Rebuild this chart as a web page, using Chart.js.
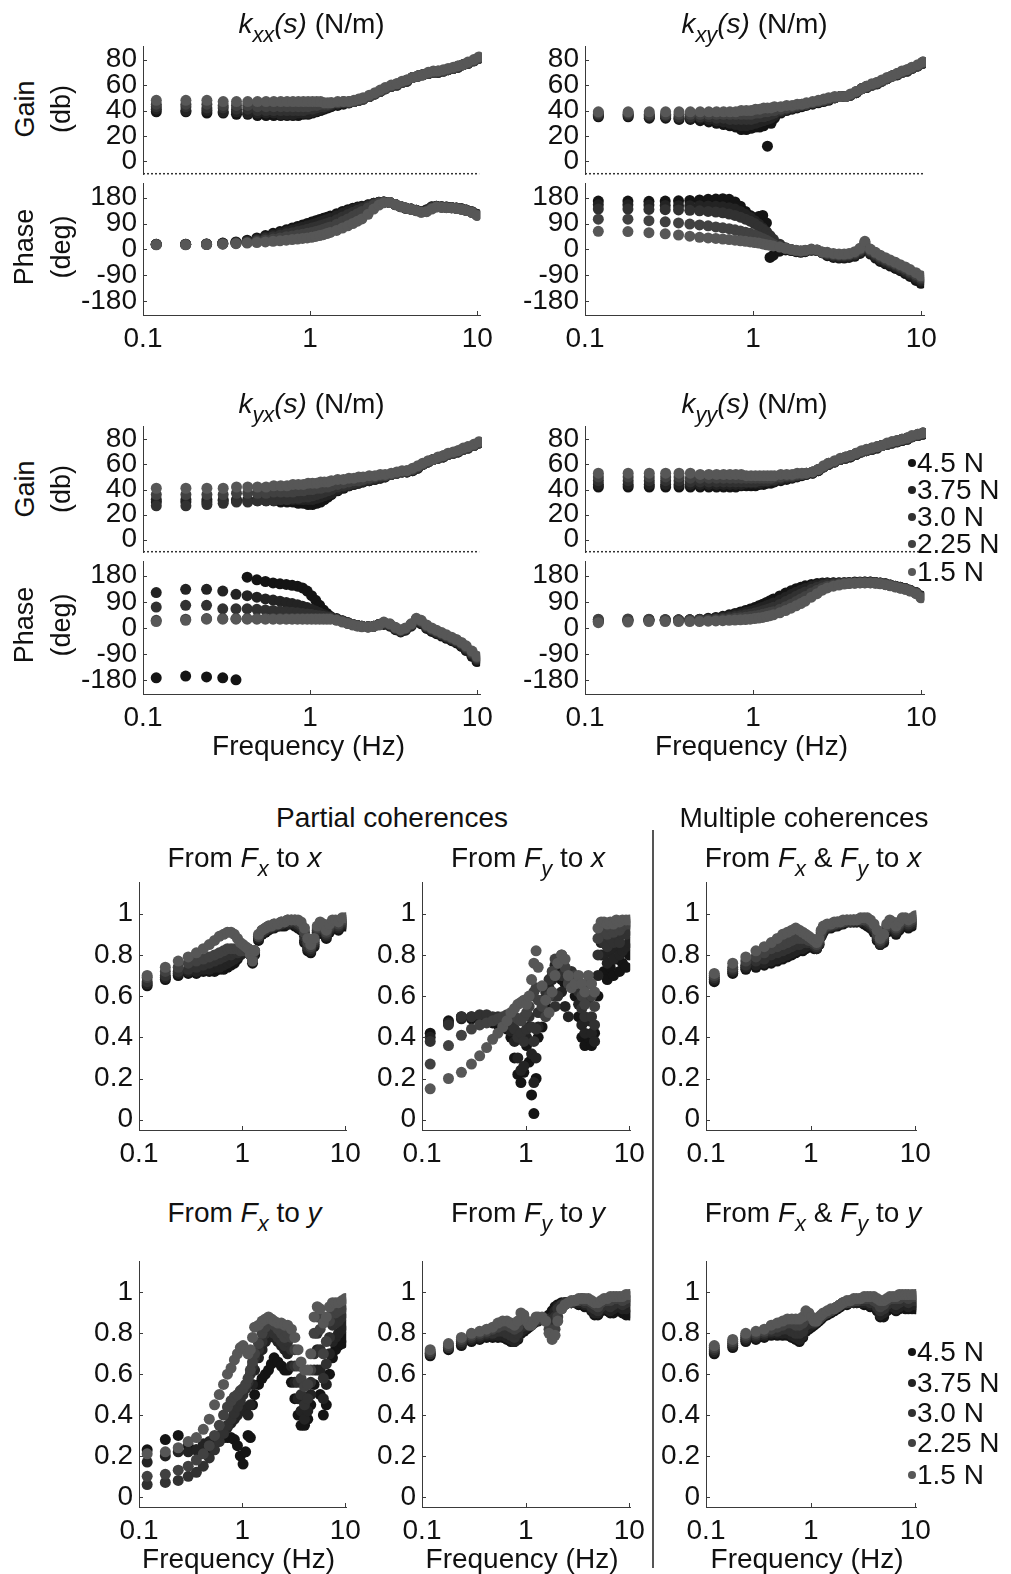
<!DOCTYPE html>
<html>
<head>
<meta charset="utf-8">
<script src="https://cdn.jsdelivr.net/npm/chart.js@4.4.1/dist/chart.umd.min.js"></script>
<style>
  body { margin: 0; background: #fff; }
  #fig { position: relative; width: 1011px; height: 1574px; overflow: hidden;
         font-family: "Liberation Sans", Arial, sans-serif; color: #111; }
  #fig canvas { position: absolute; }
  .lbl { position: absolute; white-space: nowrap; line-height: 1; font-size: 28px;
         transform: translate(-50%, -50%); }
  .rot { font-size: 27px; transform: translate(-50%, -50%) rotate(-90deg); }
  .sb { position: relative; top: 0.42em; font-size: 0.78em; }
  .leg { position: absolute; white-space: nowrap; line-height: 1; font-size: 28px;
         transform: translateY(-50%); display: flex; align-items: center; }
  .dot { display: inline-block; width: 8px; height: 8px; border-radius: 50%; margin-right: 1px; }
  #sep { position: absolute; left: 652px; top: 830px; width: 2px; height: 738px; background: #555; }
</style>
</head>
<body>
<div id="fig"><div id="sep"></div></div>
<script>
// frequency grid (Hz), shared by every panel
const freq = [0.12,0.18,0.24,0.3,0.36,0.42,0.48,0.54,0.6,0.66,
  0.72,0.78,0.84,0.9,0.96,1.02,1.08,1.14,1.2,1.26,
  1.32,1.44,1.56,1.68,1.8,1.92,2.04,2.22,2.4,2.58,
  2.76,3,3.24,3.48,3.72,4.02,4.32,4.62,4.98,5.34,
  5.7,6.12,6.54,7.02,7.5,8.04,8.58,9.3,9.96];

const forces = ['4.5 N', '3.75 N', '3.0 N', '2.25 N', '1.5 N'];
const grays = ['#141414', '#232323', '#313131', '#414141', '#575757'];

// ---- stiffness k_xx : gain (dB) / phase (deg), one row per force level
const kxxGain = [
  [39,39,38,38,37,37,36,36,36,36, 36,36,36,37,37,38,39,40,41,42, 43,44,45,46,47,48,49,51,53,55, 57,59,60,62,63,66,67,68,69,70, 70,71,72,73,74,76,77,79,81],
  [41,40,40,39,39,38,38,38,38,37, 37,37,38,38,38,39,40,41,42,43, 44,45,46,46,47,48,49,51,53,55, 57,59,60,62,63,66,67,68,69,70, 70,71,72,73,74,76,77,79,81],
  [43,43,42,42,41,41,40,40,40,40, 40,40,40,40,41,41,42,43,43,44, 45,46,46,46,47,48,49,51,53,55, 57,59,60,62,63,66,67,68,69,70, 70,71,72,73,74,76,77,79,81],
  [45,45,45,44,44,44,43,43,43,43, 43,43,43,43,43,44,44,45,45,45, 46,46,47,47,47,48,49,51,53,55, 57,59,61,62,64,66,67,68,69,70, 71,71,72,73,75,76,77,79,81],
  [48,48,48,47,47,47,47,47,47,47, 47,47,47,47,47,47,47,47,46,46, 46,47,47,47,48,49,50,52,54,56, 58,60,61,63,64,66,67,68,70,71, 71,72,73,74,75,76,78,80,82]
];
const kxxPhase = [
  [18,18,19,22,26,32,40,48,56,62, 68,74,80,85,90,95,100,104,108,112, 116,124,132,138,143,147,150,155,160,164, 165,163,155,148,143,140,136,132,138,148, 150,148,147,146,144,141,137,131,122],
  [18,18,19,21,24,29,36,43,50,56, 62,67,72,77,82,86,90,95,100,104, 108,117,126,133,139,144,148,154,160,164, 165,163,156,149,144,140,136,132,137,147, 150,148,147,146,144,141,137,130,121],
  [17,17,18,20,23,27,32,38,44,49, 54,58,62,66,70,74,78,82,86,90, 94,103,113,121,129,136,142,150,158,163, 165,163,156,149,144,140,136,131,135,145, 149,147,146,145,143,140,136,130,120],
  [17,17,17,19,21,24,28,32,36,40, 44,47,50,53,56,59,62,66,70,74, 78,87,97,106,115,124,132,144,154,161, 164,163,156,149,144,140,135,130,133,143, 148,147,146,145,143,140,136,129,119],
  [16,16,17,18,20,22,24,26,28,30, 32,34,36,38,40,42,45,48,51,55, 59,66,74,82,90,98,106,122,140,154, 162,163,156,149,144,139,134,129,131,140, 147,146,145,144,142,139,135,128,118]
];

// ---- k_xy
const kxyGain = [
  [35,35,34,34,33,33,32,31,30,29, 28,27,25,25,26,27,27,28,12,30, 34,38,40,41,42,43,44,45,46,47, 48,50,51,51,52,54,57,58,60,61, 63,65,67,68,70,71,73,75,77],
  [36,36,35,35,34,34,34,33,32,31, 30,29,28,28,29,30,31,32,33,34, 36,39,41,42,43,44,45,46,47,48, 49,50,51,51,52,54,57,58,60,61, 63,65,67,68,70,71,73,75,77],
  [37,37,36,36,35,35,35,35,34,34, 33,33,33,33,33,34,35,35,36,37, 38,40,41,42,43,44,45,46,47,48, 49,50,51,51,52,54,57,58,60,61, 63,65,67,68,70,71,73,75,77],
  [38,38,37,37,37,37,37,37,37,37, 37,37,37,37,37,38,38,39,39,40, 40,41,42,43,44,45,45,46,47,48, 49,50,51,51,52,55,57,59,60,62, 63,65,67,69,70,72,73,75,78],
  [39,39,39,39,39,39,39,39,39,39, 39,39,40,40,40,41,41,42,42,42, 43,43,44,44,45,45,46,47,48,49, 50,51,51,51,53,55,57,59,61,62, 64,66,67,69,71,72,74,76,78]
];
const kxyPhase = [
  [168,168,167,168,169,170,172,174,175,176, 174,165,150,132,118,110,114,118,92,-28, -20,-6,-2,-4,-8,-10,-8,-3,-4,-12, -22,-28,-30,-30,-28,-24,-14,10,-16,-30, -42,-50,-58,-66,-74,-84,-94,-108,-118],
  [155,155,154,153,152,152,152,151,150,148, 145,140,132,122,112,100,88,75,62,45, 30,14,4,-2,-6,-8,-6,-2,-4,-12, -19,-24,-26,-26,-24,-20,-10,14,-12,-25, -36,-45,-53,-61,-69,-78,-88,-100,-110],
  [140,140,139,138,137,136,134,132,130,127, 123,118,112,105,98,90,80,70,60,48, 35,18,6,0,-4,-6,-5,-1,-3,-10, -16,-20,-22,-22,-20,-16,-5,19,-7,-19, -30,-39,-47,-55,-63,-72,-82,-93,-103],
  [105,105,100,96,92,88,85,82,78,75, 72,68,64,60,56,50,44,38,32,25, 18,10,4,0,-4,-6,-4,0,-2,-10, -13,-17,-19,-19,-17,-12,0,24,-3,-14, -25,-34,-42,-50,-58,-66,-76,-87,-97],
  [63,62,58,54,50,46,42,40,38,36, 34,32,30,28,26,24,22,19,16,14, 12,8,4,0,-3,-5,-3,1,-2,-9, -10,-14,-16,-16,-14,-8,4,28,1,-10, -20,-29,-37,-45,-53,-61,-70,-81,-92]
];

// ---- k_yx
const kyxGain = [
  [30,30,30,31,31,31,31,31,31,30, 30,30,29,29,28,28,29,30,32,34, 36,39,41,43,44,45,46,47,48,49, 50,52,53,54,54,55,57,60,62,64, 65,66,68,69,70,72,73,75,77],
  [32,32,32,32,32,32,32,32,32,32, 32,32,32,32,32,32,33,34,35,36, 37,40,42,43,44,45,46,47,48,49, 50,52,53,54,54,55,57,60,62,64, 65,66,68,69,70,72,73,75,77],
  [27,27,28,29,30,30,31,31,31,32, 32,33,33,34,34,35,36,37,38,39, 40,42,43,44,45,46,47,48,49,50, 51,52,53,54,54,56,58,60,62,64, 65,66,68,69,70,72,73,75,77],
  [36,36,36,36,37,37,37,37,38,38, 38,38,39,39,40,40,41,41,42,42, 43,44,45,46,47,47,48,49,50,51, 51,52,53,54,55,56,58,60,62,64, 65,67,68,69,71,72,74,75,77],
  [41,41,41,41,42,42,42,42,43,43, 43,44,44,44,45,45,45,46,46,46, 47,48,48,49,49,50,50,51,51,52, 52,53,54,55,55,57,59,61,63,64, 66,67,69,70,71,73,74,76,78]
];
const kyxPhase = [
  [-172,-166,-169,-172,-179,175,166,160,155,152, 150,147,144,138,127,111,95,78,62,50, 40,32,25,18,12,8,6,4,6,12, 12,6,-6,-14,-8,6,22,14,-2,-12, -20,-28,-36,-44,-52,-64,-78,-98,-116],
  [122,133,133,127,116,111,106,100,96,92, 88,84,80,75,70,64,58,52,46,42, 38,30,24,18,12,8,6,4,6,12, 14,8,-4,-12,-6,8,26,18,2,-8, -16,-24,-32,-40,-48,-60,-74,-92,-110],
  [72,78,78,66,66,66,64,62,60,58, 56,54,52,50,48,46,44,42,40,38, 36,30,24,18,12,8,6,4,6,12, 16,10,-2,-10,-4,10,28,20,4,-6, -14,-22,-30,-38,-46,-56,-70,-88,-106],
  [26,30,32,32,32,32,32,32,32,32, 32,32,32,32,32,32,32,32,32,32, 32,28,22,16,12,8,6,4,6,12, 18,12,0,-8,-2,12,30,23,7,-3, -11,-19,-27,-35,-43,-53,-66,-84,-102],
  [22,26,30,30,30,30,30,30,30,30, 30,30,30,30,30,30,30,30,30,30, 30,26,20,15,10,6,4,3,5,10, 20,14,2,-6,0,14,33,26,10,0, -8,-16,-24,-32,-40,-50,-62,-80,-98]
];

// ---- k_yy
const kyyGain = [
  [42,42,42,42,42,42,42,42,42,42, 42,42,43,43,43,43,44,44,45,45, 46,47,48,49,50,51,52,53,55,58, 60,62,64,65,66,68,70,71,72,73, 75,76,77,78,79,80,82,83,84],
  [44,44,44,44,44,44,44,44,44,44, 44,44,44,45,45,45,45,46,46,47, 47,48,49,50,51,52,52,53,55,58, 60,62,64,65,66,68,70,71,72,73, 75,76,77,78,79,80,82,83,84],
  [47,47,47,47,47,46,46,46,46,46, 46,46,46,46,46,46,47,47,47,48, 48,49,50,50,51,52,53,54,56,58, 60,62,64,65,67,68,70,71,72,74, 75,76,77,78,80,81,82,83,85],
  [50,50,50,50,50,49,49,49,49,49, 49,49,49,49,49,49,49,49,49,49, 50,50,51,51,52,52,53,54,56,58, 61,62,64,66,67,69,70,71,73,74, 75,76,78,79,80,81,82,84,85],
  [53,53,53,53,53,53,52,52,52,52, 52,52,52,51,51,51,51,51,51,51, 51,52,52,52,53,53,53,54,56,59, 61,63,65,66,67,69,71,72,73,74, 75,77,78,79,80,81,83,84,85]
];
const kyyPhase = [
  [22,24,25,26,27,28,30,33,36,40, 45,50,55,60,65,70,76,82,88,94, 100,110,120,128,135,140,145,150,153,155, 156,156,156,156,157,158,158,158,158,157, 155,152,148,144,140,136,130,122,110],
  [24,26,27,27,27,28,29,31,34,37, 41,45,49,53,57,61,66,71,76,81, 86,96,106,115,123,130,136,143,148,152, 154,155,155,156,156,157,157,158,158,157, 155,152,148,144,140,136,130,122,110],
  [28,29,29,28,28,28,28,29,31,33, 36,39,42,45,48,51,55,59,63,67, 71,81,91,100,109,117,124,133,140,146, 150,152,153,154,155,156,157,157,157,156, 154,151,147,143,139,135,129,121,108],
  [30,31,30,29,28,27,27,27,28,29, 31,33,35,37,39,41,44,47,50,53, 56,64,73,82,91,100,108,120,130,138, 144,148,151,153,154,155,156,156,156,155, 153,150,146,142,138,134,128,120,106],
  [18,20,22,22,22,22,22,23,24,25, 26,27,28,29,30,32,34,36,39,42, 45,52,60,68,76,84,92,106,118,130, 138,144,148,151,153,154,155,155,155,154, 152,149,145,141,137,133,127,118,104]
];

// ---- partial coherences
const cohFxToX = [
  [.65,.68,.70,.71,.71,.72,.72,.72,.73,.73, .74,.75,.76,.78,.80,.81,.82,.82,.80,.76, .80,.87,.90,.91,.92,.93,.93,.94,.94,.94, .95,.95,.94,.93,.92,.86,.82,.81,.84,.90, .92,.91,.88,.91,.93,.93,.92,.94,.94],
  [.66,.69,.71,.72,.72,.73,.73,.74,.74,.75, .76,.77,.78,.79,.80,.81,.82,.82,.80,.77, .81,.88,.91,.92,.93,.93,.94,.94,.95,.95, .95,.96,.95,.94,.93,.87,.83,.82,.85,.91, .93,.92,.89,.92,.94,.94,.93,.95,.95],
  [.67,.70,.72,.73,.74,.75,.76,.77,.78,.79, .80,.80,.81,.81,.82,.82,.83,.83,.81,.78, .82,.89,.91,.92,.93,.94,.94,.95,.95,.96, .96,.96,.96,.95,.94,.89,.84,.83,.86,.92, .94,.93,.90,.93,.95,.95,.94,.96,.96],
  [.69,.72,.74,.76,.77,.78,.79,.80,.81,.82, .83,.83,.83,.83,.82,.82,.83,.83,.81,.78, .82,.89,.92,.93,.94,.94,.95,.95,.96,.96, .97,.97,.97,.96,.95,.91,.86,.84,.87,.93, .95,.94,.91,.94,.96,.96,.95,.97,.97],
  [.70,.74,.77,.79,.81,.83,.85,.87,.89,.90, .91,.91,.90,.88,.86,.85,.84,.83,.80,.77, .82,.90,.92,.93,.94,.94,.95,.95,.96,.96, .97,.97,.97,.97,.96,.93,.88,.85,.88,.94, .96,.95,.92,.95,.97,.97,.96,.98,.98]
];
const cohFyToX = [
  [.42,.48,.50,.49,.49,.48,.47,.46,.45,.44, .40,.30,.22,.18,.23,.36,.28,.12,.03,.20, .40,.45,.55,.60,.70,.72,.74,.68,.66,.70, .66,.60,.50,.40,.36,.40,.36,.42,.60,.80, .72,.68,.74,.70,.78,.72,.76,.74,.80],
  [.40,.47,.49,.50,.50,.49,.48,.48,.47,.46, .43,.38,.30,.24,.26,.40,.45,.32,.18,.30, .45,.52,.58,.64,.68,.75,.70,.62,.55,.50, .70,.64,.56,.46,.42,.48,.42,.38,.70,.86, .80,.76,.82,.78,.84,.80,.82,.84,.86],
  [.38,.46,.50,.50,.51,.51,.50,.50,.49,.48, .46,.44,.40,.42,.38,.44,.50,.45,.38,.44, .52,.58,.62,.68,.60,.55,.60,.70,.72,.68, .72,.68,.62,.54,.50,.58,.50,.46,.80,.90, .86,.84,.88,.86,.90,.86,.90,.90,.92],
  [.27,.36,.41,.44,.46,.47,.48,.49,.50,.51, .50,.50,.49,.48,.50,.52,.55,.60,.62,.64, .58,.55,.50,.60,.72,.78,.76,.80,.74,.66, .68,.70,.66,.60,.56,.66,.60,.55,.88,.94, .92,.90,.93,.91,.94,.92,.94,.95,.95],
  [.15,.20,.23,.27,.31,.35,.39,.42,.45,.48, .52,.54,.56,.57,.58,.56,.60,.68,.76,.82, .74,.65,.58,.52,.62,.70,.76,.80,.78,.70, .64,.66,.70,.66,.62,.70,.66,.62,.93,.96, .96,.95,.96,.95,.97,.96,.97,.97,.97]
];
const cohFxToY = [
  [.23,.28,.30,.25,.23,.22,.24,.26,.28,.29, .29,.29,.28,.25,.20,.16,.22,.30,.29,.45, .50,.55,.58,.60,.62,.65,.68,.66,.64,.62, .62,.56,.48,.40,.35,.35,.38,.45,.55,.62, .50,.40,.45,.60,.68,.72,.74,.75,.78],
  [.17,.20,.22,.22,.23,.26,.27,.28,.30,.32, .34,.36,.38,.40,.42,.44,.42,.40,.45,.55, .62,.68,.72,.76,.78,.79,.78,.76,.74,.72, .70,.64,.56,.48,.42,.38,.42,.50,.62,.72, .62,.48,.55,.70,.76,.78,.80,.82,.84],
  [.06,.07,.08,.10,.12,.15,.19,.23,.27,.31, .35,.38,.41,.44,.47,.50,.53,.56,.60,.64, .68,.72,.76,.80,.82,.82,.80,.78,.76,.74, .76,.72,.64,.56,.50,.45,.48,.56,.70,.80, .72,.58,.65,.78,.84,.85,.86,.88,.90],
  [.10,.11,.13,.15,.18,.21,.25,.30,.35,.40, .44,.47,.49,.50,.52,.53,.55,.58,.62,.66, .70,.75,.80,.83,.85,.86,.84,.82,.80,.78, .80,.78,.72,.64,.58,.54,.55,.62,.80,.88, .82,.70,.76,.86,.90,.90,.91,.92,.94],
  [.21,.22,.24,.27,.29,.33,.38,.45,.50,.55, .60,.63,.67,.70,.73,.74,.72,.70,.72,.78, .83,.84,.86,.87,.88,.87,.86,.85,.85,.84, .84,.82,.78,.72,.66,.62,.62,.70,.88,.93, .92,.85,.88,.93,.95,.95,.95,.96,.97]
];
const cohFyToY = [
  [.69,.72,.74,.76,.77,.78,.78,.78,.78,.77, .76,.76,.77,.80,.81,.82,.83,.84,.85,.86, .86,.87,.88,.89,.91,.93,.94,.95,.95,.95, .95,.95,.94,.94,.93,.93,.91,.89,.89,.91, .92,.91,.90,.90,.91,.91,.90,.89,.89],
  [.70,.73,.75,.77,.78,.79,.79,.79,.79,.78, .77,.76,.78,.81,.82,.83,.84,.85,.86,.86, .87,.87,.87,.87,.88,.91,.93,.94,.95,.95, .95,.95,.95,.95,.94,.94,.92,.90,.90,.92, .93,.92,.91,.92,.93,.93,.92,.92,.93],
  [.70,.73,.76,.78,.79,.80,.80,.81,.81,.80, .79,.78,.80,.83,.84,.84,.84,.85,.86,.86, .87,.87,.87,.86,.85,.88,.92,.94,.95,.95, .95,.96,.96,.96,.95,.95,.93,.92,.91,.93, .94,.94,.93,.94,.95,.95,.94,.95,.96],
  [.71,.74,.77,.79,.80,.81,.82,.83,.84,.84, .83,.82,.83,.86,.87,.86,.85,.85,.86,.87, .87,.87,.86,.82,.80,.82,.88,.92,.94,.95, .95,.96,.96,.97,.96,.96,.95,.94,.93,.95, .96,.96,.96,.97,.97,.97,.96,.97,.98],
  [.72,.75,.78,.80,.81,.82,.83,.85,.86,.86, .85,.84,.86,.90,.89,.86,.84,.84,.86,.88, .88,.88,.86,.80,.77,.79,.86,.92,.94,.95, .96,.96,.97,.97,.97,.97,.96,.95,.95,.96, .97,.97,.98,.98,.98,.98,.98,.99,.99]
];

// ---- multiple coherences
const cohBothToX = [
  [.67,.71,.73,.74,.75,.76,.77,.78,.79,.80, .81,.82,.82,.83,.84,.84,.83,.83,.85,.89, .91,.93,.93,.94,.94,.95,.95,.96,.96,.96, .96,.96,.95,.94,.93,.91,.87,.85,.86,.91, .93,.92,.90,.92,.94,.94,.93,.94,.95],
  [.68,.72,.74,.75,.76,.77,.78,.79,.80,.81, .82,.83,.83,.84,.85,.85,.84,.83,.85,.89, .92,.93,.94,.94,.95,.95,.96,.96,.96,.96, .96,.96,.96,.95,.94,.92,.88,.85,.87,.92, .94,.93,.91,.93,.95,.95,.94,.95,.96],
  [.69,.73,.75,.77,.78,.80,.81,.82,.83,.84, .85,.85,.86,.86,.86,.86,.85,.84,.86,.90, .92,.94,.94,.95,.95,.96,.96,.96,.96,.97, .97,.97,.97,.96,.95,.93,.89,.86,.88,.93, .95,.94,.92,.94,.96,.96,.95,.96,.97],
  [.70,.74,.77,.79,.81,.83,.84,.85,.86,.87, .88,.88,.88,.88,.87,.87,.86,.85,.87,.91, .93,.94,.95,.95,.96,.96,.96,.97,.97,.97, .97,.97,.97,.97,.96,.94,.90,.87,.89,.94, .96,.95,.93,.95,.97,.97,.96,.97,.98],
  [.71,.76,.79,.82,.84,.86,.88,.90,.91,.92, .93,.92,.91,.90,.89,.88,.87,.86,.88,.92, .94,.95,.95,.96,.96,.96,.97,.97,.97,.97, .97,.98,.98,.98,.97,.95,.92,.88,.90,.95, .97,.96,.94,.96,.98,.98,.97,.98,.99]
];
const cohBothToY = [
  [.70,.73,.76,.77,.78,.79,.79,.79,.79,.78, .77,.76,.78,.81,.82,.83,.84,.85,.86,.87, .88,.89,.90,.91,.92,.93,.94,.94,.95,.95, .95,.95,.94,.94,.93,.93,.91,.88,.88,.91, .92,.92,.91,.92,.93,.92,.92,.92,.92],
  [.71,.74,.77,.78,.79,.80,.80,.80,.80,.79, .78,.77,.79,.82,.83,.84,.85,.86,.87,.88, .89,.90,.91,.92,.93,.94,.94,.95,.95,.95, .95,.95,.95,.95,.94,.94,.92,.89,.90,.93, .94,.93,.92,.93,.94,.94,.93,.94,.94],
  [.72,.75,.78,.79,.80,.81,.81,.82,.82,.81, .80,.80,.81,.84,.85,.85,.85,.86,.87,.88, .89,.90,.91,.92,.93,.94,.95,.95,.95,.96, .96,.96,.96,.96,.95,.95,.93,.91,.92,.94, .95,.95,.94,.95,.96,.96,.95,.96,.96],
  [.73,.76,.79,.80,.81,.82,.83,.84,.85,.85, .84,.84,.85,.88,.88,.87,.86,.86,.87,.88, .89,.90,.91,.92,.93,.94,.95,.95,.96,.96, .96,.97,.97,.97,.97,.96,.95,.93,.94,.96, .97,.97,.97,.97,.98,.98,.97,.98,.98],
  [.74,.77,.80,.81,.82,.84,.85,.86,.87,.87, .87,.87,.88,.91,.90,.88,.86,.86,.88,.89, .90,.91,.92,.92,.93,.94,.95,.96,.96,.97, .97,.97,.98,.98,.98,.98,.97,.96,.96,.97, .98,.98,.98,.99,.99,.99,.99,.99,.99]
];

[kxxGain, kxxPhase, kxyGain, kxyPhase, kyxGain, kyxPhase, kyyGain, kyyPhase,
 cohFxToX, cohFyToX, cohFxToY, cohFyToY, cohBothToX, cohBothToY].forEach((p, n) => {
  p.forEach((row, i) => {
    if (row.length !== freq.length) throw new Error('panel ' + n + ' row ' + i + ' has ' + row.length);
  });
});

// ---------------------------------------------------------
const fig = document.getElementById('fig');
Chart.defaults.font.family = '"Liberation Sans", Arial, sans-serif';
Chart.defaults.font.size = 28;
Chart.defaults.color = '#111';

const AXIS = '#3a3a3a';

// short tick marks pointing into the plot, MATLAB style
const inwardTicks = {
  id: 'inwardTicks',
  afterDraw(chart) {
    const {ctx, chartArea, scales} = chart;
    ctx.save();
    ctx.strokeStyle = AXIS;
    ctx.lineWidth = 1;
    ctx.beginPath();
    scales.y.ticks.forEach(t => {
      const py = Math.round(scales.y.getPixelForValue(t.value)) + 0.5;
      ctx.moveTo(chartArea.left, py);
      ctx.lineTo(chartArea.left + 4, py);
    });
    if (scales.x.options.display) {
      scales.x.ticks.forEach(t => {
        const px = Math.round(scales.x.getPixelForValue(t.value)) + 0.5;
        ctx.moveTo(px, chartArea.bottom);
        ctx.lineTo(px, chartArea.bottom - 4);
      });
    }
    ctx.stroke();
    ctx.restore();
  }
};

// dotted line separating gain and phase
const dottedSplit = {
  id: 'dottedSplit',
  afterDraw(chart) {
    const {ctx, chartArea, scales} = chart;
    ctx.save();
    ctx.strokeStyle = '#333';
    ctx.lineWidth = 1.5;
    ctx.setLineDash([2, 2]);
    ctx.beginPath();
    ctx.moveTo(chartArea.left, chartArea.bottom - 0.5);
    ctx.lineTo(scales.x.getPixelForValue(10), chartArea.bottom - 0.5);
    ctx.stroke();
    ctx.restore();
  }
};

function datasets(rows) {
  return rows.map((vals, i) => ({
    label: forces[i],
    data: freq.map((f, j) => ({x: f, y: vals[j]})),
    backgroundColor: grays[i],
    pointRadius: 5.5,
    pointBorderWidth: 0,
    order: rows.length - 1 - i   // lightest series drawn last
  }));
}

function panel(box, rows, yCfg, opts) {
  const AXW = opts.axw, PAD_T = 18, PAD_R = 18;
  const padB = opts.showX ? 0 : 18;
  const XH = opts.showX ? 45 : 0;
  const cv = document.createElement('canvas');
  cv.width = AXW + (box.right - box.left) + PAD_R;
  cv.height = PAD_T + (box.bottom - box.top) + padB + XH;
  cv.style.left = (box.left - AXW) + 'px';
  cv.style.top = (box.top - PAD_T) + 'px';
  fig.appendChild(cv);

  new Chart(cv, {
    type: 'scatter',
    data: {datasets: datasets(rows)},
    options: {
      responsive: false,
      animation: false,
      devicePixelRatio: 1,
      layout: {padding: {top: PAD_T, right: PAD_R, bottom: padB, left: 0}},
      plugins: {legend: {display: false}, tooltip: {enabled: false}},
      scales: {
        x: {
          type: 'logarithmic', min: 0.1, max: opts.xMax, display: opts.showX,
          afterBuildTicks: s => { s.ticks = [0.1, 1, 10].map(v => ({value: v})); },
          afterFit: s => { s.height = XH; },
          grid: {display: false, drawTicks: false},
          border: {display: true, color: AXIS, width: 1},
          ticks: {padding: 7, maxRotation: 0, autoSkip: false, callback: v => String(v)}
        },
        y: {
          min: yCfg.min, max: yCfg.max,
          afterBuildTicks: s => { s.ticks = yCfg.ticks.map(v => ({value: v})); },
          afterFit: s => { s.width = AXW; },
          grid: {display: false, drawTicks: false},
          border: {display: true, color: AXIS, width: 1},
          ticks: {padding: 6, autoSkip: false, callback: v => String(v)}
        }
      }
    },
    plugins: [inwardTicks].concat(opts.plugins || [])
  });
}

function text(html, x, y, cls) {
  const d = document.createElement('div');
  d.className = cls || 'lbl';
  d.style.left = x + 'px';
  d.style.top = y + 'px';
  d.innerHTML = html;
  fig.appendChild(d);
}

function legend(x, ys) {
  forces.forEach((name, i) => {
    const d = document.createElement('div');
    d.className = 'leg';
    d.style.left = x + 'px';
    d.style.top = ys[i] + 'px';
    d.innerHTML = '<span class="dot" style="background:' + grays[i] + '"></span>' + name;
    fig.appendChild(d);
  });
}

// ---------------------------------------------------------
// BODE PANELS
// ---------------------------------------------------------
const gainAxis = {min: -10, max: 90, ticks: [0, 20, 40, 60, 80]};
const phaseAxis = {min: -228, max: 228, ticks: [-180, -90, 0, 90, 180]};
const bodeCols = [{left: 143, right: 482}, {left: 585, right: 926}];
const bodeRows = [{top: 42, split: 179, bottom: 315}, {top: 422, split: 557, bottom: 694}];
const bode = [
  {row: 0, col: 0, gain: kxxGain, phase: kxxPhase, sub: 'xx'},
  {row: 0, col: 1, gain: kxyGain, phase: kxyPhase, sub: 'xy'},
  {row: 1, col: 0, gain: kyxGain, phase: kyxPhase, sub: 'yx'},
  {row: 1, col: 1, gain: kyyGain, phase: kyyPhase, sub: 'yy'}
];

bode.forEach(p => {
  const c = bodeCols[p.col], r = bodeRows[p.row];
  panel({left: c.left, right: c.right, top: r.top, bottom: r.split}, p.gain, gainAxis,
        {axw: 90, showX: false, xMax: 10.4, plugins: [dottedSplit]});
  panel({left: c.left, right: c.right, top: r.split, bottom: r.bottom}, p.phase, phaseAxis,
        {axw: 90, showX: true, xMax: 10.4});
  const cx = (c.left + c.right) / 2 - 1;
  text('<i>k</i><span class="sb"><i>' + p.sub + '</i></span><i>(s)</i> (N/m)', cx, r.top - 18);
  if (p.row === 1) text('Frequency (Hz)', cx - 3, r.bottom + 52);
});

[0, 1].forEach(i => {
  const r = bodeRows[i];
  text('Gain', 25, r.top + 67, 'lbl rot');
  text('(db)', 61, r.top + 67, 'lbl rot');
  text('Phase', 24, r.split + 68, 'lbl rot');
  text('(deg)', 61, r.split + 68, 'lbl rot');
});
legend(908, [463, 490, 517, 544, 572]);

// ---------------------------------------------------------
// COHERENCE PANELS
// ---------------------------------------------------------
const cohAxis = {min: -0.05, max: 1.15, ticks: [0, 0.2, 0.4, 0.6, 0.8, 1]};
const cohCols = [{left: 139, right: 350}, {left: 422, right: 634}, {left: 706, right: 920}];
const cohRows = [{top: 878, bottom: 1130}, {top: 1257, bottom: 1507}];
const F = s => '<i>F</i><span class="sb"><i>' + s + '</i></span>';
const coh = [
  {row: 0, col: 0, data: cohFxToX, title: 'From ' + F('x') + ' to <i>x</i>'},
  {row: 0, col: 1, data: cohFyToX, title: 'From ' + F('y') + ' to <i>x</i>'},
  {row: 0, col: 2, data: cohBothToX, title: 'From ' + F('x') + ' &amp; ' + F('y') + ' to <i>x</i>'},
  {row: 1, col: 0, data: cohFxToY, title: 'From ' + F('x') + ' to <i>y</i>'},
  {row: 1, col: 1, data: cohFyToY, title: 'From ' + F('y') + ' to <i>y</i>'},
  {row: 1, col: 2, data: cohBothToY, title: 'From ' + F('x') + ' &amp; ' + F('y') + ' to <i>y</i>'}
];
const cohTitleY = [858, 1213];

coh.forEach(p => {
  const c = cohCols[p.col], r = cohRows[p.row];
  panel({left: c.left, right: c.right, top: r.top, bottom: r.bottom}, p.data, cohAxis,
        {axw: 70, showX: true, xMax: 10.2});
  const cx = (c.left + c.right) / 2;
  text(p.title, cx, cohTitleY[p.row]);
  if (p.row === 1) text('Frequency (Hz)', cx - 6, r.bottom + 52);
});

text('Partial coherences', 392, 818);
text('Multiple coherences', 804, 818);
legend(908, [1352, 1383, 1413, 1443, 1475]);
</script>
</body>
</html>
